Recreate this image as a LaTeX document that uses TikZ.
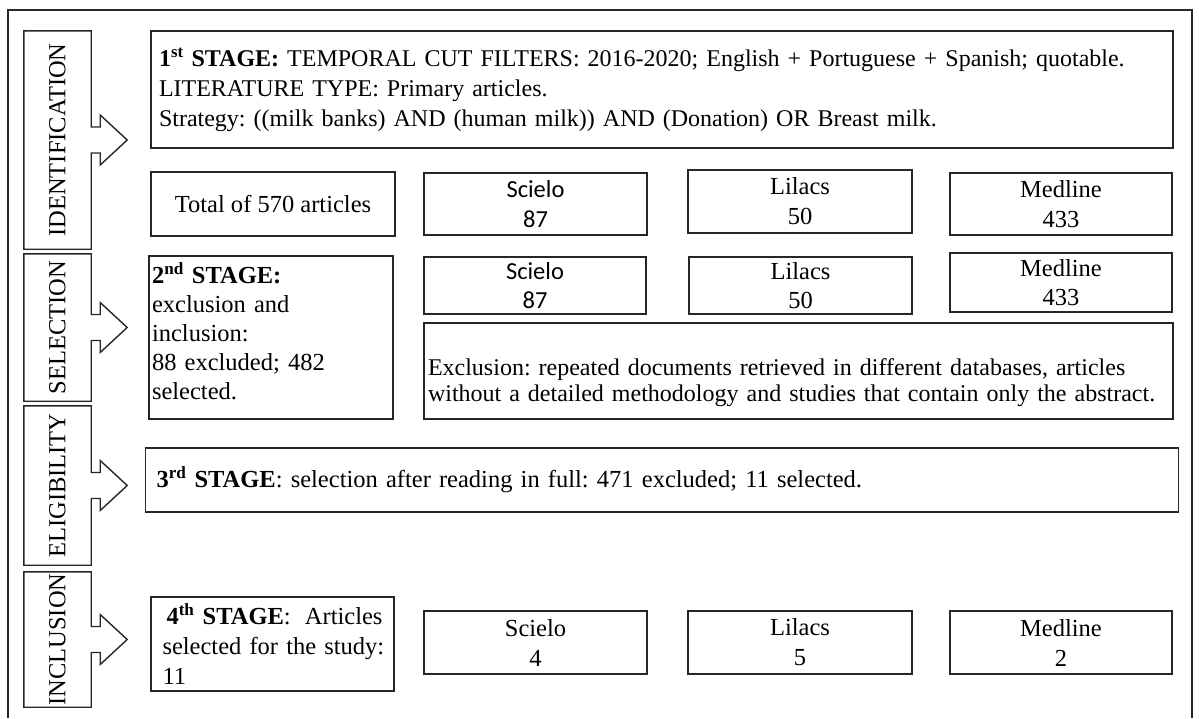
\documentclass[tikz,border=0pt]{standalone}
\usepackage{fontspec}
\setmainfont{Liberation Serif}
\newfontfamily\calfont{Carlito}
\usetikzlibrary{calc}
\frenchspacing
\begin{document}
\begin{tikzpicture}[x=1pt,y=-1pt,
  ln/.style={draw=black!85, line width=1.4pt},
  box/.style={ln, inner sep=0pt, align=center, font=\frenchspacing\fontsize{24.5}{30}\selectfont},
  lbox/.style={box, align=left},
  stagebox/.style={inner sep=0pt, minimum width=67pt},
  stagelabel/.style={rotate=90, inner sep=0pt, font=\fontsize{24.5}{29}\selectfont},
  callout/.style={ln, line join=miter}
]
\useasboundingbox (0,0) rectangle (1199,718);
% outer frame
\coordinate (fbl) at (8,718);
\coordinate (ftl) at (8,10);
\coordinate (ftr) at (1192,10);
\coordinate (fbr) at (1192,718);
\draw[ln, line width=1.2pt] (fbl) -- (ftl) -- (ftr) -- (fbr);

% stage labels with arrows
\node[stagebox, minimum height=218pt] (id) at (57.5,140) {};
\node[stagebox, minimum height=147pt] (se) at (57.5,327.5) {};
\node[stagebox, minimum height=159pt] (el) at (57.5,485.5) {};
\node[stagebox, minimum height=135pt] (in) at (57.5,639.5) {};
\foreach \n/\t in {id/IDENTIFICATION, se/SELECTION, el/ELIGIBILITY, in/INCLUSION}{
  \node[stagelabel] (\n l) at (\n.center) {\t};
  \draw[callout] (\n.north west) -- (\n.north east) -- ($(\n.east)+(0,-13)$) -- ++(9,0) -- ++(0,-12)
     -- ($(\n.east)+(36,0)$) -- ($(\n.east)+(9,25)$) -- ++(0,-12) -- ++(-9,0)
     -- (\n.south east) -- (\n.south west) -- cycle;
}

% 1st stage
\node[lbox, minimum width=1022pt, minimum height=117pt, text width=1006pt, inner xsep=8pt,
      font=\frenchspacing\fontsize{24}{30}\selectfont] (s1) at (662,89.5)
 {\makebox[1006pt][s]{\textbf{1\textsuperscript{st} STAGE:} TEMPORAL CUT FILTERS: 2016-2020; English + Portuguese + Spanish; quotable.}\\
  \mbox{LITERATURE TYPE: Primary articles.}\\
  \mbox{Strategy: ((milk banks) AND (human milk)) AND (Donation) OR Breast milk.}};

% row 1
\node[box, minimum width=244pt, minimum height=64pt] (tot) at (273,204) {Total of 570 articles};
\node[box, minimum width=223pt, minimum height=62pt, font=\calfont\fontsize{24.5}{30}\selectfont] (sc1) at (535.5,204) {Scielo\\87};
\node[box, minimum width=224pt, minimum height=63pt] (li1) at (800,201.5) {Lilacs\\50};
\node[box, minimum width=222pt, minimum height=62pt] (me1) at (1061,204) {Medline\\433};

% row 2
\node[lbox, minimum width=244pt, minimum height=163pt, text width=238pt, inner xsep=3pt,
      font=\frenchspacing\fontsize{24.5}{29}\selectfont] (s2) at (271,337.5)
 {\textbf{2\textsuperscript{nd} STAGE:}\\exclusion and\\inclusion:\\88 excluded; 482\\selected.\rule[-12pt]{0pt}{12pt}};
\node[box, minimum width=222pt, minimum height=57pt, font=\calfont\fontsize{24.5}{29}\selectfont] (sc2) at (535,285.5) {Scielo\\87};
\node[box, minimum width=223pt, minimum height=57pt, font=\fontsize{24.5}{29}\selectfont] (li2) at (800.5,285.5) {Lilacs\\50};
\node[box, minimum width=222pt, minimum height=59pt, font=\fontsize{24.5}{29}\selectfont] (me2) at (1061,282.5) {Medline\\433};
\node[lbox, minimum width=749pt, minimum height=96pt, text width=741pt, inner xsep=4pt,
      font=\frenchspacing\fontsize{24}{26}\selectfont] (ex) at (798.5,371)
 {\rule{0pt}{40pt}\makebox[741pt][s]{Exclusion: repeated documents retrieved in different databases, articles}\\
  \mbox{without a detailed methodology and studies that contain only the abstract.}};

% 3rd stage
\node[lbox, minimum width=1022pt, minimum height=64pt, text width=1011pt, inner xsep=11pt] (s3) at (662,480)
 {\textbf{3\textsuperscript{rd} STAGE}: selection after reading in full: 471 excluded; 11 selected.};

% 4th stage
\node[lbox, minimum width=243pt, minimum height=94pt, text width=220pt, inner xsep=11.5pt] (s4) at (272.5,644)
 {\hspace*{4pt}\textbf{4\textsuperscript{th} STAGE}:\hfill Articles\\\mbox{selected for the study:}\\11};
\node[box, minimum width=223pt, minimum height=63pt] (sc3) at (535.5,642.5) {Scielo\\4};
\node[box, minimum width=224pt, minimum height=63pt] (li3) at (800,642.5) {Lilacs\\5};
\node[box, minimum width=222pt, minimum height=63pt] (me3) at (1061,642.5) {Medline\\2};
\end{tikzpicture}
\end{document}
